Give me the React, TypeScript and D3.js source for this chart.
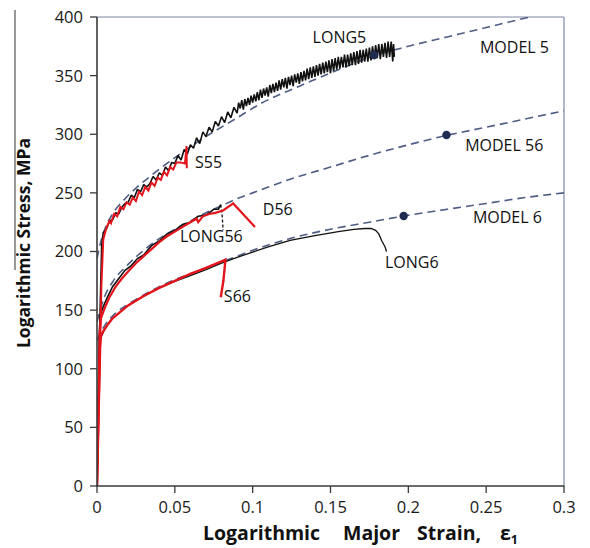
import React from "react";
import * as d3 from "d3";

type P = [number, number];

const xTicks = [0, 0.05, 0.1, 0.15, 0.2, 0.25, 0.3];
const xTickLabels = ["0", "0.05", "0.1", "0.15", "0.2", "0.25", "0.3"];
const yTicks = [0, 50, 100, 150, 200, 250, 300, 350, 400];

const model5: P[] = [[0,194],[0.002,206],[0.005,219],[0.01,232],[0.018,245],[0.025,254],[0.035,265],[0.05,280],[0.07,298],[0.09,314],[0.105,326],[0.13,341],[0.155,355],[0.178,367],[0.2,375],[0.225,383],[0.25,391],[0.278,400]];
const model56: P[] = [[0,140],[0.002,150],[0.005,162],[0.01,174],[0.02,189],[0.03,201],[0.04,211],[0.05,219],[0.06,226],[0.07,233],[0.08,239],[0.09,245],[0.1,250],[0.11,255],[0.125,262],[0.15,272],[0.175,282],[0.2,291],[0.2245,299],[0.25,306],[0.275,313],[0.3,320]];
const model6: P[] = [[0,124],[0.002,130],[0.005,137],[0.01,145],[0.02,155],[0.03,163],[0.04,170],[0.05,176],[0.06,181],[0.07,186],[0.08,191],[0.09,196],[0.1,201],[0.11,205.5],[0.124,211],[0.15,219],[0.175,225],[0.197,230.3],[0.225,236],[0.25,241],[0.275,246],[0.3,250]];

const modelDots: P[] = [[0.178,367.6],[0.2245,299.4],[0.197,230.3]];

const long5: P[] = [[0,0],[0.002,150],[0.003,205],[0.004,216],[0.006,219],[0.008,226],[0.010,227],[0.012,233],[0.014,232],[0.016,238],[0.018,241],[0.020,242],[0.022,248],[0.024,246],[0.026,253],[0.028,251],[0.030,257],[0.032,255],[0.034,258],[0.036,264],[0.038,261],[0.040,267],[0.042,265],[0.044,272],[0.046,269],[0.048,276],[0.050,275],[0.052,282],[0.054,278],[0.056,287],[0.058,283],[0.060,291],[0.062,288],[0.064,297],[0.066,292],[0.068,302],[0.070,298],[0.072,306],[0.074,302],[0.076,311],[0.078,307],[0.080,315],[0.082,310],[0.084,319],[0.086,314],[0.088,323],
  [0.090,318],[0.091,327],[0.092,322],[0.093,329],[0.094,321],[0.095,330],[0.096,324],[0.097,331],[0.098,325],[0.099,333],[0.100,327],[0.101,334],[0.102,328],[0.103,336],[0.104,329],[0.105,338],[0.106,331],[0.107,339],[0.108,333],[0.109,340],[0.110,332],[0.111,342],[0.112,335],[0.113,343],[0.114,336],[0.115,344],[0.116,337],[0.117,346],[0.118,338],[0.119,347],[0.120,340],[0.121,348],[0.122,339],[0.123,349],[0.124,342],[0.125,350],[0.126,341],[0.127,351],[0.128,344],[0.129,352],[0.130,343],[0.131,353],[0.132,345],[0.133,354],[0.134,346],[0.135,356],[0.136,347],[0.137,357],[0.138,348],[0.139,358],[0.140,349],[0.141,359],[0.142,350],[0.143,360],[0.144,351],[0.145,361],[0.146,352],[0.147,362],[0.148,353],[0.149,363],[0.150,352],[0.151,364],[0.152,354],[0.153,365],[0.154,355],[0.155,366],[0.156,356],[0.157,366],[0.158,357],[0.159,368],[0.160,357],[0.161,368],[0.162,358],[0.163,369],[0.164,359],[0.165,370],[0.166,359],[0.167,371],[0.168,360],[0.169,372],[0.170,361],[0.171,372],[0.172,362],[0.173,373],[0.174,362],[0.175,374],[0.176,363],[0.177,375],[0.178,364],[0.179,376],[0.180,365],[0.181,377],[0.182,364],[0.183,377],[0.184,366],[0.185,378],[0.186,365],[0.187,379],[0.188,366],[0.189,379],[0.190,362],[0.1905,377],[0.191,366]];

const s55: P[] = [[0,0],[0.0015,90],[0.0028,170],[0.004,210],[0.006,220],[0.008,226],[0.009,224],[0.011,232],[0.013,230],[0.015,238],[0.017,236],[0.019,242],[0.021,240],[0.023,246],[0.025,243],[0.027,251],[0.029,248],[0.031,255],[0.033,252],[0.035,259],[0.037,256],[0.039,263],[0.041,261],[0.043,268],[0.045,265],[0.047,272],[0.049,270],[0.051,276],[0.0535,276],[0.0565,275],[0.0575,290],[0.0577,271]];

const long56: P[] = [[0,0],[0.001,90],[0.0015,130],[0.002,145],[0.004,153],[0.007,162],[0.010,170],[0.014,177],[0.018,184],[0.022,188],[0.026,194],[0.030,197],[0.035,205],[0.040,209],[0.045,215],[0.050,218],[0.055,223],[0.060,225],[0.065,230],[0.070,231],[0.075,236],[0.078,236],[0.0795,240]];
const long56Drop: P[] = [[0.0795,240],[0.0805,229],[0.081,218]];

const d56: P[] = [[0,0],[0.001,70],[0.0017,130],[0.0025,143],[0.005,152],[0.008,161],[0.012,170],[0.016,177],[0.020,183],[0.025,190],[0.030,196],[0.035,202],[0.040,208],[0.045,213],[0.050,217],[0.055,221],[0.060,225],[0.064,228],[0.065,225],[0.068,230],[0.072,232],[0.076,233],[0.081,235],[0.0875,241],[0.1015,221]];

const long6: P[] = [[0,0],[0.001,80],[0.002,124],[0.003,128],[0.005,134],[0.010,143],[0.020,154],[0.030,162],[0.040,169],[0.050,174.5],[0.060,179.5],[0.070,184.5],[0.080,190],[0.090,195],[0.100,199.5],[0.110,204],[0.124,209.5],[0.140,213.5],[0.155,217],[0.165,218.8],[0.172,219.6],[0.176,219.6],[0.179,218],[0.181,215],[0.183,209],[0.185,204],[0.186,200]];

const s66: P[] = [[0,0],[0.001,60],[0.002,118],[0.0025,128],[0.004,132],[0.007,138],[0.010,143],[0.020,154],[0.030,162],[0.040,169],[0.050,175],[0.060,181],[0.070,186],[0.080,191.5],[0.0825,193],[0.0812,175],[0.0795,161]];

const labels: { t: string; e: number; s: number }[] = [
  { t: "LONG5", e: 0.1385, s: 378 },
  { t: "MODEL 5", e: 0.246, s: 369 },
  { t: "MODEL 56", e: 0.2365, s: 285.5 },
  { t: "MODEL 6", e: 0.2415, s: 224 },
  { t: "LONG6", e: 0.185, s: 186 },
  { t: "S55", e: 0.0630, s: 271 },
  { t: "D56", e: 0.1065, s: 231 },
  { t: "LONG56", e: 0.0533, s: 208.5 },
  { t: "S66", e: 0.0815, s: 157 },
];

const xTitleWords = ["Logarithmic", "Major", "Strain,", "ε"];
const xTitleWordX = [203, 343, 417, 500];

const W = 590, H = 548;
const x = d3.scaleLinear().domain([0, 0.3]).range([97, 564]);
const y = d3.scaleLinear().domain([0, 400]).range([486, 17]);

const lin = d3.line<P>().x(d => x(d[0])).y(d => y(d[1]));
const smooth = d3.line<P>().x(d => x(d[0])).y(d => y(d[1])).curve(d3.curveMonotoneX);

const font = "'Open Sans', 'DejaVu Sans', sans-serif";
const DASH = "#4f5d84";
const RED = "#e3141b";

export default function App() {
  return (
    <svg width={W} height={H} style={{ position: "absolute", left: 0, top: 0, background: "#fff" }} fontFamily={font}>
      <defs>
        <clipPath id="plot"><rect x={97} y={17} width={467} height={469} /></clipPath>
      </defs>
      <rect x={0} y={0} width={W} height={H} fill="#fff" />
      <line x1={15} y1={10} x2={15} y2={270} stroke="#333" strokeWidth={1} />
      <line x1={97} y1={17} x2={564} y2={17} stroke="#8089a8" strokeWidth={1.2} />
      <line x1={564} y1={17} x2={564} y2={486} stroke="#8089a8" strokeWidth={1.2} />
      <g clipPath="url(#plot)">
        {[model5, model56, model6].map((m, i) => (
          <path key={i} d={smooth(m) || ""} fill="none" stroke={DASH} strokeWidth={1.6} strokeDasharray="8,5" />
        ))}
        <path d={lin(long6) || ""} fill="none" stroke="#111" strokeWidth={1.3} />
        <path d={lin(long56) || ""} fill="none" stroke="#111" strokeWidth={1.6} />
        <path d={lin(long56Drop) || ""} fill="none" stroke="#111" strokeWidth={1.3} strokeDasharray="3,2" />
        <path d={lin(long5) || ""} fill="none" stroke="#111" strokeWidth={1.6} strokeLinejoin="bevel" />
        <path d={lin(s66) || ""} fill="none" stroke={RED} strokeWidth={2.4} />
        <path d={lin(d56) || ""} fill="none" stroke={RED} strokeWidth={2.2} />
        <path d={lin(s55) || ""} fill="none" stroke={RED} strokeWidth={2} />
        {modelDots.map((p, i) => (
          <circle key={i} cx={x(p[0])} cy={y(p[1])} r={4.2} fill="#1f2c52" />
        ))}
      </g>
      <line x1={97} y1={17} x2={97} y2={486.5} stroke="#3a3a3a" strokeWidth={1.6} />
      <line x1={96.5} y1={486} x2={564.5} y2={486} stroke="#3a3a3a" strokeWidth={1.6} />
      {yTicks.map(t => (
        <g key={t}>
          <line x1={90} x2={97} y1={y(t)} y2={y(t)} stroke="#3a3a3a" strokeWidth={1.3} />
          <text x={83} y={y(t)} dy="0.36em" textAnchor="end" fontSize={16.5} fill="#1a1a1a">{t}</text>
        </g>
      ))}
      {xTicks.map((t, i) => (
        <g key={t}>
          <line x1={x(t)} x2={x(t)} y1={486} y2={493} stroke="#3a3a3a" strokeWidth={1.3} />
          <text x={x(t)} y={513} textAnchor="middle" fontSize={16.5} fill="#1a1a1a">{xTickLabels[i]}</text>
        </g>
      ))}
      {labels.map(l => (
        <text key={l.t} x={x(l.e)} y={y(l.s)} fontSize={16} fill="#111">{l.t}</text>
      ))}
      <text transform="translate(30,243) rotate(-90)" textAnchor="middle" fontSize={17.5} fontWeight="bold" fill="#111">
        Logarithmic Stress, MPa
      </text>
      <text y={540} fontSize={19.5} fontWeight="bold" fill="#111">
        {xTitleWords.map((w, i) => (
          <tspan key={w} x={xTitleWordX[i]}>{w}</tspan>
        ))}
        <tspan fontSize={12.5} dy={4}>1</tspan>
      </text>
    </svg>
  );
}
